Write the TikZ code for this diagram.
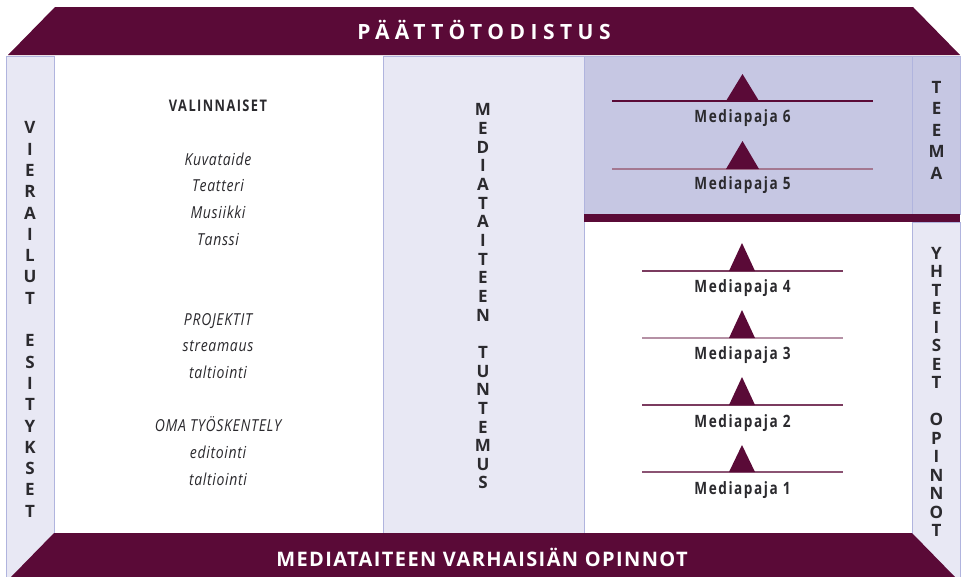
\documentclass[tikz,border=0pt]{standalone}
\usepackage{fontspec}
\setmainfont{Open Sans}
\newfontfamily\vfont{Open Sans}
\newfontfamily\titlefont[LetterSpace=26]{Open Sans}
\newfontfamily\bottomfont[LetterSpace=7]{Open Sans}
\newfontfamily\condbfont[FakeStretch=0.8,LetterSpace=9]{Open Sans}
\newfontfamily\conditfont[FakeStretch=0.85,LetterSpace=4]{Open Sans}
\definecolor{maroon}{HTML}{5A0A37}
\definecolor{lavL}{HTML}{E8E8F4}
\definecolor{lavD}{HTML}{C6C7E3}
\definecolor{lavB}{HTML}{B0B4DE}
\definecolor{ink}{HTML}{2B2A2E}
\tikzset{
  panelL/.style={fill=lavL, draw=lavB, line width=0.9pt},
  panelD/.style={fill=lavD, draw=lavB, line width=0.9pt},
  vtext/.style={font=\vfont\bfseries\fontsize{17}{#1}\selectfont, align=center, text=ink, inner sep=0pt},
  head/.style={font=\condbfont\bfseries\fontsize{16}{19}\selectfont, text=ink, anchor=base, inner sep=0pt},
  item/.style={font=\conditfont\itshape\fontsize{16.5}{19}\selectfont, text=ink, anchor=base, inner sep=0pt},
  mp/.style={font=\condbfont\bfseries\fontsize{17}{20}\selectfont, text=ink, anchor=base, inner sep=0pt},
  tri/.style={fill=maroon},
}
\begin{document}
\begin{tikzpicture}[x=1pt,y=-1pt]
\useasboundingbox (0,0) rectangle (963,576);
\fill[white] (0,0) rectangle (963,576);
% panels
\draw[panelL] (6,56) rectangle (54,580);
\draw[panelL] (912,222) rectangle (960,580);
\draw[panelD] (912,56) rectangle (960,214);
\draw[panelL] (383,56) rectangle (584,533);
\draw[panelD] (584,56) rectangle (912,214);
\draw[draw=lavB, line width=0.9pt] (584,222) -- (584,533);
\fill[maroon] (584,214) rectangle (960,222);
% banners
\fill[maroon] (55,7) -- (913,7) -- (960,55) -- (8,55) -- cycle;
\fill[maroon] (54,533) -- (912,533) -- (955,577) -- (11,577) -- cycle;
\node[font=\titlefont\bfseries\fontsize{21}{24}\selectfont, text=white, anchor=base, inner sep=0pt] (title) at (484,39) {PÄÄTTÖTODISTUS};
\node[font=\bottomfont\bfseries\fontsize{20}{22}\selectfont, text=white, anchor=base, inner sep=0pt] (bottom) at (482,566) {MEDIATAITEEN VARHAISIÄN OPINNOT};
% vertical texts
\node[vtext=21.3] (vier) at (30,319.5) {V\\I\\E\\R\\A\\I\\L\\U\\T\\~\\E\\S\\I\\T\\Y\\K\\S\\E\\T};
\node[vtext=18.65] (medi) at (483,296.5) {M\\E\\D\\I\\A\\T\\A\\I\\T\\E\\E\\N\\~\\T\\U\\N\\T\\E\\M\\U\\S};
\node[vtext=21.5] (teema) at (936.5,130) {T\\E\\E\\M\\A};
\node[vtext=18.5] (yht) at (936.5,392) {Y\\H\\T\\E\\I\\S\\E\\T\\~\\O\\P\\I\\N\\N\\O\\T};
% left column
\node[head] (val) at (218,111) {VALINNAISET};
\node[item] (kuva) at (218,165) {Kuvataide};
\node[item] (teat) at (218,191) {Teatteri};
\node[item] (musi) at (218,218) {Musiikki};
\node[item] (tans) at (218,245) {Tanssi};
\node[item] (proj) at (218,325) {PROJEKTIT};
\node[item] (stre) at (218,351) {streamaus};
\node[item] (talt1) at (218,378) {taltiointi};
\node[item] (oma) at (218,431) {OMA TYÖSKENTELY};
\node[item] (edit) at (218,458) {editointi};
\node[item] (talt2) at (218,485) {taltiointi};
% mediapajat upper
\draw[maroon, line width=1.3pt] (612,101) -- (873,101);
\fill[tri] (742.5,74) -- (759,101) -- (726,101) -- cycle;
\node[mp] (m6) at (742.5,122) {Mediapaja 6};
\draw[maroon!55, line width=1.3pt] (612,169) -- (873,169);
\fill[tri] (742.5,141) -- (759,169) -- (726,169) -- cycle;
\node[mp] (m5) at (742.5,189) {Mediapaja 5};
% lower
\draw[maroon!80, line width=1.3pt] (642,271) -- (843,271);
\fill[tri] (742,243) -- (755,271) -- (729,271) -- cycle;
\node[mp] (m4) at (742.5,292) {Mediapaja 4};
\draw[maroon!45, line width=1.3pt] (642,338) -- (843,338);
\fill[tri] (742,310) -- (755,338) -- (729,338) -- cycle;
\node[mp] (m3) at (742.5,359) {Mediapaja 3};
\draw[maroon!80, line width=1.3pt] (642,405) -- (843,405);
\fill[tri] (742,377) -- (755,405) -- (729,405) -- cycle;
\node[mp] (m2) at (742.5,427) {Mediapaja 2};
\draw[maroon!70, line width=1.3pt] (642,472) -- (843,472);
\fill[tri] (742,445) -- (755,472) -- (729,472) -- cycle;
\node[mp] (m1) at (742.5,494) {Mediapaja 1};
\end{tikzpicture}
\end{document}
